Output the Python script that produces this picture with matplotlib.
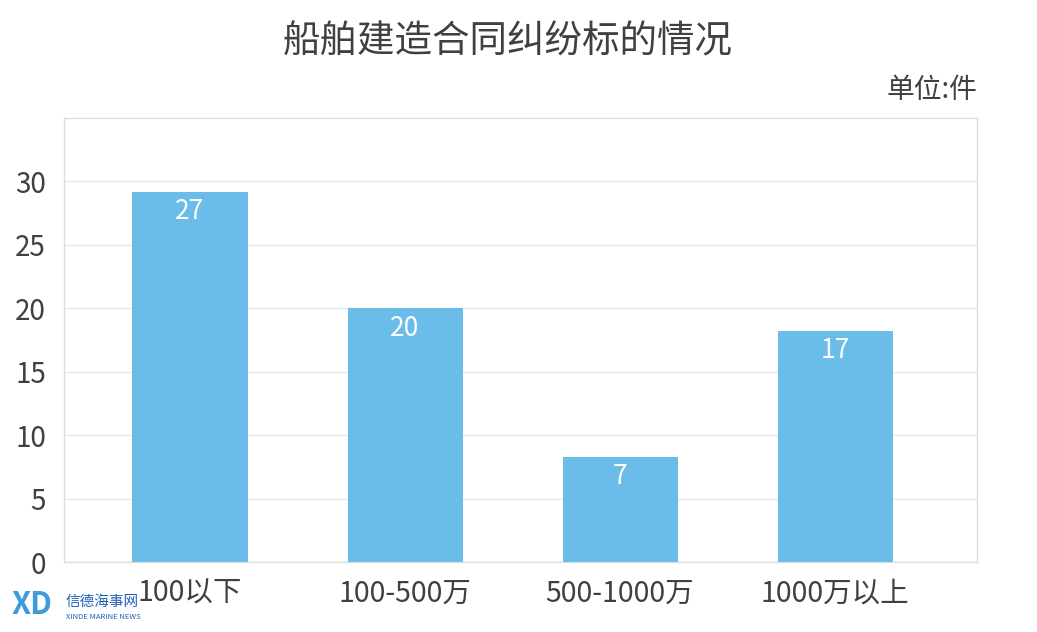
import matplotlib
matplotlib.use("Agg")
import matplotlib.pyplot as plt
import numpy as np

plt.rcParams['font.family'] = ['Noto Sans CJK SC', 'DejaVu Sans']

# 数据
categories = ['100以下', '100-500万', '500-1000万', '1000万以上']
bar_heights = [29.2, 20, 8.3, 18.2]   # 图上柱子的实际高度
bar_labels = ['27', '20', '7', '17']  # 柱子上标注的数值
y_ticks = [0, 5, 10, 15, 20, 25, 30]

text_color = '#404040'
bar_color = '#6bbde9'

fig = plt.figure(figsize=(10.37, 6.32), dpi=100)
ax = fig.add_axes([64 / 1037, 1 - 562 / 632, (977 - 64) / 1037, (562 - 118) / 632])

x = np.arange(len(categories))
bars = ax.bar(x, bar_heights, width=0.535, color=bar_color, zorder=3)

for rect, lab in zip(bars, bar_labels):
    ax.text(rect.get_x() + rect.get_width() / 2, rect.get_height() - 0.5, lab,
            ha='center', va='top', color='white', fontsize=19, zorder=4)

ax.set_xlim(-0.586, 3.66)
ax.set_ylim(0, 35)
ax.set_yticks(y_ticks)
ax.set_yticklabels([str(t) for t in y_ticks])
ax.set_xticks(x)
ax.set_xticklabels(categories)
ax.tick_params(axis='y', length=0, pad=13, labelsize=20, labelcolor=text_color)
ax.tick_params(axis='x', length=0, pad=12, labelsize=20.5, labelcolor=text_color)
ax.grid(axis='y', color='#e6e6e6', linewidth=1, zorder=0)

for s in ax.spines.values():
    s.set_color('#dddddd')
    s.set_linewidth(1)

fig.text(508 / 1037, 1 - 42 / 632, '船舶建造合同纠纷标的情况', ha='center', va='center',
         fontsize=27, color=text_color)
fig.text(977 / 1037, 1 - 90 / 632, '单位:件', ha='right', va='center',
         fontsize=20, color=text_color)

# 水印
fig.text(12 / 1037, 1 - 605 / 632, 'XD', ha='left', va='center', fontsize=22,
         fontweight='bold', style='italic', color='#2a8fd6', alpha=0.9)
fig.text(66 / 1037, 1 - 602 / 632, '信德海事网', ha='left', va='center', fontsize=10.5,
         color='#1f5fb8')
fig.text(66 / 1037, 1 - 617 / 632, 'XINDE MARINE NEWS', ha='left', va='center',
         fontsize=5.5, color='#1f5fb8')

fig.savefig('out.png', dpi=100, facecolor='white')
